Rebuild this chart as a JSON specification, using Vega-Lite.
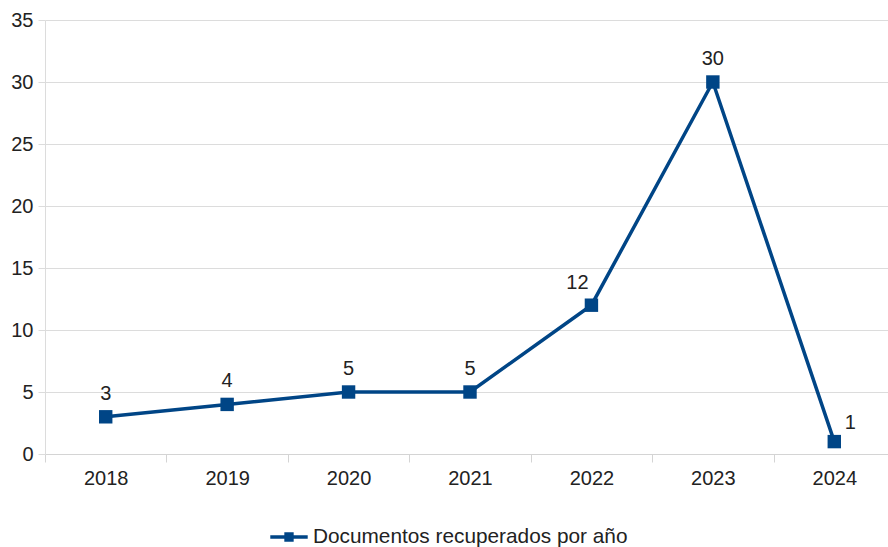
{
  "$schema": "https://vega.github.io/schema/vega-lite/v6.json",
  "autosize": "none",
  "width": 843,
  "height": 434,
  "padding": {"left": 45, "top": 20, "right": 0, "bottom": 93},
  "background": "white",
  "config": {
    "font": "Liberation Sans",
    "view": {"stroke": null},
    "axis": {"labelFont": "Liberation Sans", "labelFontSize": 20, "labelColor": "#222222"}
  },
  "data": {
    "values": [
      {"year": "2018", "docs": 3, "series": "Documentos recuperados por año"},
      {"year": "2019", "docs": 4, "series": "Documentos recuperados por año"},
      {"year": "2020", "docs": 5, "series": "Documentos recuperados por año"},
      {"year": "2021", "docs": 5, "series": "Documentos recuperados por año"},
      {"year": "2022", "docs": 12, "series": "Documentos recuperados por año"},
      {"year": "2023", "docs": 30, "series": "Documentos recuperados por año"},
      {"year": "2024", "docs": 1, "series": "Documentos recuperados por año"}
    ]
  },
  "encoding": {
    "x": {
      "field": "year", "type": "ordinal", "bandPosition": 0.5,
      "scale": {"type": "band", "range": [0, 850], "paddingInner": 0, "paddingOuter": 0},
      "axis": {
        "title": null, "labelAngle": 0, "tickBand": "extent", "grid": false,
        "domain": true, "domainColor": "#d4d4d4", "tickColor": "#d4d4d4", "tickSize": 8, "labelPadding": 6
      }
    },
    "y": {
      "field": "docs", "type": "quantitative",
      "scale": {"domain": [0, 35], "nice": false},
      "axis": {
        "title": null, "values": [0, 5, 10, 15, 20, 25, 30, 35], "grid": true, "gridColor": "#dcdcdc",
        "domainColor": "#dcdcdc", "tickColor": "#dcdcdc", "tickSize": 7, "labelPadding": 5
      }
    }
  },
  "layer": [
    {
      "mark": {"type": "line", "strokeWidth": 3.5, "color": "#004586"},
      "encoding": {
        "color": {
          "field": "series", "type": "nominal",
          "scale": {"range": ["#004586"]},
          "legend": {
            "title": null, "orient": "none", "legendX": 225, "legendY": 498,
            "symbolType": "M-1,-0.1H1V0.1H-1Z M-0.25,-0.25H0.25V0.25H-0.25Z",
            "symbolSize": 1400, "symbolStrokeWidth": 0, "symbolFillColor": "#004586",
            "labelFontSize": 20.8, "labelFont": "Liberation Sans", "labelColor": "#222222", "labelOffset": 5, "labelLimit": 500
          }
        }
      }
    },
    {
      "mark": {"type": "point", "shape": "square", "filled": true, "size": 180, "color": "#004586", "opacity": 1}
    },
    {
      "transform": [{"filter": "datum.year != '2024' && datum.year != '2022'"}],
      "mark": {"type": "text", "fontSize": 20, "color": "#222222", "dy": -23, "baseline": "middle"},
      "encoding": {"text": {"field": "docs", "type": "quantitative"}}
    },
    {
      "transform": [{"filter": "datum.year == '2022'"}],
      "mark": {"type": "text", "fontSize": 20, "color": "#222222", "dx": -14, "dy": -22, "baseline": "middle"},
      "encoding": {"text": {"field": "docs", "type": "quantitative"}}
    },
    {
      "transform": [{"filter": "datum.year == '2024'"}],
      "mark": {"type": "text", "fontSize": 20, "color": "#222222", "dx": 16, "dy": -19, "baseline": "middle"},
      "encoding": {"text": {"field": "docs", "type": "quantitative"}}
    }
  ]
}
